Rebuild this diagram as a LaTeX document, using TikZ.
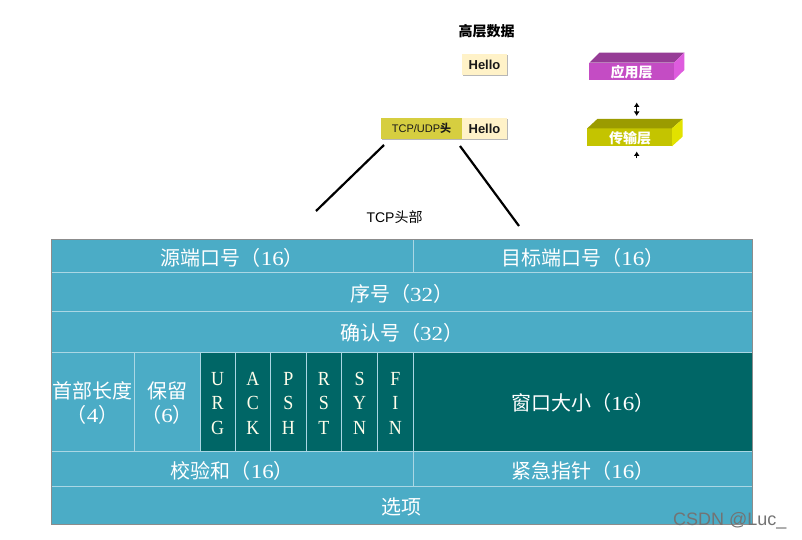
\documentclass[tikz,border=0pt]{standalone}
\usepackage{fontspec}
\usetikzlibrary{arrows.meta,shadows}
\setmainfont{Liberation Serif}
\newfontfamily\cjk{Noto Sans CJK SC}
\newfontfamily\helv{Liberation Sans}
\newfontfamily\flagfont[FakeStretch=0.9]{Liberation Serif}
\newfontfamily\digitfont[FakeStretch=1.15]{Liberation Serif}
\definecolor{rowblue}{RGB}{75,172,198}
\definecolor{darkteal}{RGB}{0,102,102}
\definecolor{celline}{RGB}{170,215,228}
\definecolor{hellofill}{RGB}{255,242,200}
\definecolor{tcpfill}{RGB}{214,206,64}
\definecolor{appfront}{RGB}{196,76,196}
\definecolor{apptop}{RGB}{150,60,150}
\definecolor{appside}{RGB}{222,92,222}
\definecolor{trfront}{RGB}{196,196,0}
\definecolor{trtop}{RGB}{155,155,0}
\definecolor{trside}{RGB}{226,226,0}
\tikzset{
  x=1pt,y=-1pt,
  bluecell/.style={fill=rowblue,draw=celline,line width=0.9pt,inner sep=0pt,outer sep=0pt},
  darkcell/.style={bluecell,fill=darkteal},
  celltext/.style={inner sep=0pt,text=white,align=center,font=\fontsize{20}{24}\selectfont},
  flagtext/.style={inner sep=0pt,text=white!92!yellow,align=center,font=\fontsize{20}{24.5}\flagfont},
  databox/.style={inner sep=0pt,outer sep=0pt,draw=none,text=black!90,drop shadow={shadow xshift=1pt,shadow yshift=-1.5pt,fill=black!40,opacity=0.7}},
  boxtext/.style={inner sep=0pt,font=\helv\bfseries\fontsize{13}{15}\selectfont,text=black!90},
  layertxt/.style={text=white,font=\cjk\bfseries\fontsize{14}{16}\selectfont,inner sep=0pt},
  blackline/.style={line width=2.2pt,black},
  tinyarrow/.style={line width=1.1pt,black,{Latex[length=4.5pt,width=6pt]}-{Latex[length=4.5pt,width=6pt]}},
}
% name, x0, y0, x1, y1, cell style, text style, text
\newcommand{\cellbox}[8]{%
  \node[#6,minimum width=#4pt-#2pt,minimum height=#5pt-#3pt,anchor=north west] (#1) at (#2,#3) {};
  \node[#7] (#1-t) at ([yshift=-1.8pt]#1.center) {#8};}
\newcommand{\cj}[1]{{\cjk #1}}
\newcommand{\num}[1]{{\digitfont #1}}
\begin{document}
\begin{tikzpicture}
\useasboundingbox (0,0) rectangle (802,540);
\fill[white] (0,0) rectangle (802,540);
% table frame
\fill[rowblue] (51,239) rectangle (752,524);
\cellbox{src}{51}{239}{413.5}{272.7}{bluecell}{celltext}{\cj{源端口号（}\num{16}\cj{）}}
\cellbox{dst}{413.5}{239}{752}{272.7}{bluecell}{celltext}{\cj{目标端口号（}\num{16}\cj{）}}
\cellbox{seq}{51}{272.7}{752}{311}{bluecell}{celltext}{\cj{序号（}\num{32}\cj{）}}
\cellbox{ack}{51}{311}{752}{352}{bluecell}{celltext}{\cj{确认号（}\num{32}\cj{）}}
\cellbox{hlen}{51}{352}{134}{451}{bluecell}{celltext}{\cj{首部长度}\\\cj{（}\num{4}\cj{）}}
\cellbox{resv}{134}{352}{200}{451}{bluecell}{celltext}{\cj{保留}\\\cj{（}\num{6}\cj{）}}
\cellbox{furg}{200}{352}{235.3}{451}{darkcell}{flagtext}{U\\R\\G}
\cellbox{fack}{235.3}{352}{270.6}{451}{darkcell}{flagtext}{A\\C\\K}
\cellbox{fpsh}{270.6}{352}{306}{451}{darkcell}{flagtext}{P\\S\\H}
\cellbox{frst}{306}{352}{341.6}{451}{darkcell}{flagtext}{R\\S\\T}
\cellbox{fsyn}{341.6}{352}{377.4}{451}{darkcell}{flagtext}{S\\Y\\N}
\cellbox{ffin}{377.4}{352}{413.5}{451}{darkcell}{flagtext}{F\\I\\N}
\cellbox{win}{413.5}{352}{752}{451}{darkcell}{celltext}{\cj{窗口大小（}\num{16}\cj{）}}
\cellbox{chk}{51}{451}{413.5}{486.7}{bluecell}{celltext}{\cj{校验和（}\num{16}\cj{）}}
\cellbox{urgp}{413.5}{451}{752}{486.7}{bluecell}{celltext}{\cj{紧急指针（}\num{16}\cj{）}}
\cellbox{opt}{51}{486.7}{752}{524}{bluecell}{celltext}{\cj{选项}}
\draw[black!45,line width=1pt] (51,239) rectangle (752,524);
% top data
\node[font=\cjk\bfseries\fontsize{14}{16}\selectfont,inner sep=0pt] (upper) at (486.5,31) {高层数据};
\node[databox,fill=hellofill,minimum width=45pt,minimum height=21pt,anchor=north west] (hello) at (462,54) {};
\node[boxtext] (hello-t) at ([yshift=-0.6pt]hello.center) {Hello};
\node[databox,fill=tcpfill,minimum width=81pt,minimum height=21pt,anchor=north west] (tcp) at (381,118) {};
\node[inner sep=0pt,text=black!90,font=\helv\fontsize{11}{13}\selectfont] (tcp-t) at (tcp.center) {TCP/UDP{\cjk\bfseries 头}};
\node[databox,fill=hellofill,minimum width=45pt,minimum height=21pt,anchor=north west] (hellob) at (462,118) {};
\node[boxtext] (hellob-t) at ([yshift=-0.6pt]hellob.center) {Hello};
% application layer block
\fill[appfront] (589.3,62.7) rectangle (674,80);
\fill[apptop] (589.3,62.7) -- (599.3,52.7) -- (684.3,52.7) -- (674,62.7) -- cycle;
\fill[appside] (674,62.7) -- (684.3,52.7) -- (684.3,70) -- (674,80) -- cycle;
\node[layertxt] (app) at (631.5,72) {应用层};
% transport layer block
\fill[trfront] (587.3,128.3) rectangle (672,146.3);
\fill[trtop] (587.3,128.3) -- (597.3,119) -- (682.7,119) -- (672,128.3) -- cycle;
\fill[trside] (672,128.3) -- (682.7,119) -- (682.7,136.5) -- (672,146.3) -- cycle;
\node[layertxt] (trans) at (630,138) {传输层};
% small arrows between layers
\coordinate (aa) at (636.7,102.5);
\coordinate (ab) at (636.7,116);
\coordinate (ba) at (636.7,151.5);
\coordinate (bb) at (636.7,158.5);
\draw[tinyarrow] (aa) -- (ab);
\draw[line width=1.1pt,black,-{Latex[length=4.5pt,width=6pt]}] (bb) -- (ba);
% header leaders
\coordinate (la) at (384,145);
\coordinate (lb) at (316,211);
\coordinate (ra) at (460,146);
\coordinate (rb) at (519,226);
\draw[blackline] (la) -- (lb);
\draw[blackline] (ra) -- (rb);
\node[inner sep=0pt,font=\helv\fontsize{14}{16}\selectfont] (hdr) at (394.5,217) {TCP{\cjk 头部}};
% watermark
\node[inner sep=0pt,text=black!55,font=\helv\fontsize{18}{20}\selectfont,anchor=west] (wm) at (673,521) {CSDN @Luc\_};
\end{tikzpicture}
\end{document}
